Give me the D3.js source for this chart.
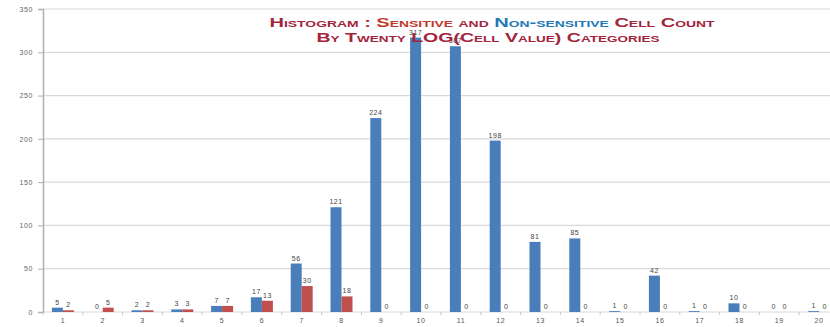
<!DOCTYPE html>
<html>
<head>
<meta charset="utf-8">
<script src="https://cdn.jsdelivr.net/npm/d3@7"></script>
<style>
  body { margin: 0; background: #fff; }
  svg { display: block; font-family: "Liberation Sans", Arial, sans-serif; }
</style>
</head>
<body>
<svg width="830" height="327"></svg>
<script>
const categories = ["1","2","3","4","5","6","7","8","9","10","11","12","13","14","15","16","17","18","19","20"];
const nonSensitive = [5,0,2,3,7,17,56,121,224,317,307,198,81,85,1,42,1,10,0,1];
const sensitive = [2,5,2,3,7,13,30,18,0,0,0,0,0,0,0,0,0,0,0,0];
const yTicks = [0,50,100,150,200,250,300,350];

const svg = d3.select("svg");
const plotLeft = 43, plotTop = 9, plotBottom = 312;

const x = d3.scaleBand().domain(categories).range([plotLeft, plotLeft + 20 * 39.8]).paddingInner(0).paddingOuter(0);
const y = d3.scaleLinear().domain([0, 350]).range([plotBottom, plotTop]);

// grid
svg.append("g")
  .selectAll("line")
  .data(yTicks)
  .enter()
  .append("line")
  .attr("x1", plotLeft)
  .attr("x2", 830)
  .attr("y1", d => y(d))
  .attr("y2", d => y(d))
  .attr("stroke", "#d9d9d9")
  .attr("stroke-width", 1.2);

const yAxis = d3.axisLeft(y).tickValues(yTicks).tickSize(5).tickPadding(5);
const ya = svg.append("g").attr("transform", `translate(${plotLeft},0)`).call(yAxis);
ya.select(".domain").attr("stroke", "#b0b0b0").attr("stroke-width", 1.5);
ya.selectAll(".tick line").attr("stroke", "#b0b0b0");
ya.selectAll("text").attr("fill", "#666").style("font-size", "7px").style("letter-spacing", "0.6px");

const xAxis = d3.axisBottom(x).tickSize(0).tickPadding(6);
const xa = svg.append("g").attr("transform", `translate(0,${plotBottom})`).call(xAxis);
xa.select(".domain").remove();
xa.selectAll("text").attr("fill", "#555").style("font-size", "7px").style("letter-spacing", "0.6px");

// small ticks between categories
svg.append("g")
  .selectAll("line")
  .data(categories)
  .enter()
  .append("line")
  .attr("x1", d => x(d))
  .attr("x2", d => x(d))
  .attr("y1", plotBottom)
  .attr("y2", plotBottom + 3)
  .attr("stroke", "#c8c8c8");

const barW = 11;
const series = [
  { values: nonSensitive, color: "#4a7ebb", offset: -barW },
  { values: sensitive, color: "#c0504d", offset: 0 }
];

series.forEach(s => {
  const rows = categories.map((c, i) => ({ c: c, v: s.values[i] }));
  svg.append("g")
    .selectAll("rect")
    .data(rows)
    .enter()
    .append("rect")
    .attr("x", d => x(d.c) + x.bandwidth() / 2 + s.offset)
    .attr("y", d => y(d.v))
    .attr("width", barW)
    .attr("height", d => plotBottom - y(d.v))
    .attr("fill", s.color);

  svg.append("g")
    .selectAll("text")
    .data(rows)
    .enter()
    .append("text")
    .attr("x", d => x(d.c) + x.bandwidth() / 2 + s.offset + barW / 2)
    .attr("y", d => y(d.v) - 3)
    .attr("text-anchor", "middle")
    .attr("fill", "#444")
    .style("font-size", "7px")
    .style("letter-spacing", "0.5px")
    .text(d => d.v);
});

// title
const title = svg.append("g").style("font-weight", "bold").style("font-variant", "small-caps")
  .style("font-size", "13px").attr("text-anchor", "middle");
const t1 = title.append("text").attr("x", 492).attr("y", 27)
  .attr("textLength", 445).attr("lengthAdjust", "spacingAndGlyphs");
t1.append("tspan").attr("fill", "#a3243b").text("Histogram : ");
t1.append("tspan").attr("fill", "#c0392b").text("Sensitive");
t1.append("tspan").attr("fill", "#a3243b").text(" and ");
t1.append("tspan").attr("fill", "#2378b5").text("Non-sensitive");
t1.append("tspan").attr("fill", "#a3243b").text(" Cell Count");
title.append("text").attr("x", 488).attr("y", 42).attr("fill", "#a3243b")
  .attr("textLength", 343).attr("lengthAdjust", "spacingAndGlyphs")
  .text("By Twenty LOG(Cell Value) Categories");
</script>
</body>
</html>
